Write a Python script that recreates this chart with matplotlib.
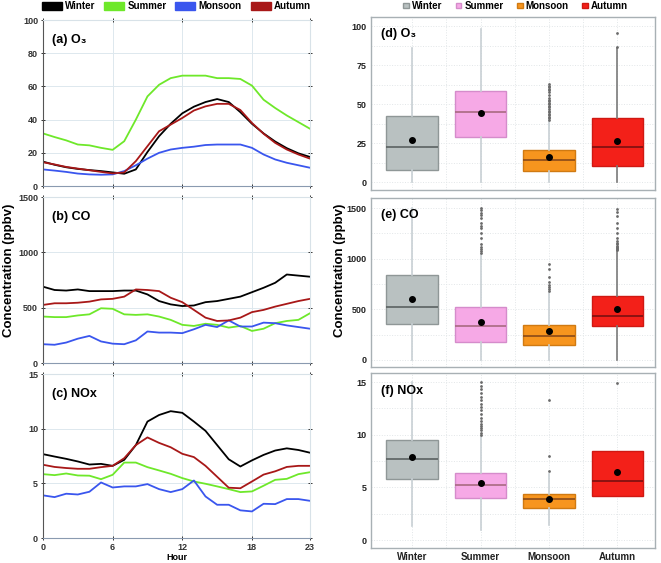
import numpy as np
import matplotlib.pyplot as plt
from matplotlib.patches import Patch

hours = list(range(24))
seasons = ['Winter', 'Summer', 'Monsoon', 'Autumn']
line_colors = ['#000000', '#6ee82a', '#3a56ee', '#a81818']

# diurnal O3 (ppbv)
o3_winter = [14.7, 12.8, 11.3, 10.3, 9.6, 9.0, 8.2, 7.4, 10.0, 20.5, 30.0, 37.5, 43.8, 47.8, 50.6, 52.4, 50.6, 44.5, 37.5, 31.7, 26.8, 22.8, 19.7, 17.5]
o3_summer = [31.7, 29.5, 27.5, 25.0, 24.5, 23.0, 21.8, 27.0, 40.0, 54.0, 61.0, 65.0, 66.5, 66.5, 66.5, 65.0, 65.0, 64.5, 60.5, 52.0, 47.0, 42.5, 38.5, 34.5]
o3_monsoon = [10.0, 9.3, 8.5, 7.5, 7.0, 6.8, 7.0, 9.0, 12.5, 16.5, 20.0, 22.0, 23.0, 23.7, 24.7, 25.0, 25.0, 25.0, 23.0, 19.0, 16.0, 14.0, 12.5, 11.0]
o3_autumn = [14.3, 13.0, 11.5, 10.5, 9.5, 8.5, 7.6, 8.2, 15.0, 24.0, 33.0, 37.0, 41.0, 45.5, 48.0, 49.5, 49.5, 45.8, 38.0, 31.5, 26.0, 22.0, 19.0, 16.5]

# diurnal CO (ppbv)
co_winter = [690, 660, 655, 665, 650, 650, 650, 655, 655, 620, 560, 530, 515, 520, 550, 560, 580, 600, 640, 680, 725, 800, 790, 780]
co_summer = [420, 415, 415, 430, 440, 495, 490, 440, 435, 440, 420, 390, 345, 335, 355, 345, 320, 335, 290, 310, 360, 380, 390, 450]
co_monsoon = [170, 165, 185, 220, 245, 195, 175, 170, 205, 285, 275, 275, 270, 305, 345, 325, 385, 330, 330, 365, 360, 340, 325, 310]
co_autumn = [525, 540, 540, 545, 555, 575, 580, 600, 665, 660, 650, 590, 550, 480, 410, 380, 385, 410, 460, 480, 510, 535, 560, 580]

# diurnal NOx (ppbv)
nox_winter = [7.67, 7.45, 7.24, 7.0, 6.72, 6.78, 6.6, 7.15, 8.5, 10.65, 11.25, 11.6, 11.45, 10.65, 9.8, 8.5, 7.2, 6.54, 7.1, 7.6, 8.0, 8.2, 8.05, 7.8]
nox_summer = [5.84, 5.75, 5.9, 5.72, 5.7, 5.38, 5.78, 6.9, 6.9, 6.48, 6.18, 5.87, 5.48, 5.17, 4.96, 4.72, 4.47, 4.2, 4.26, 4.78, 5.32, 5.41, 5.84, 6.02]
nox_monsoon = [3.9, 3.74, 4.05, 3.98, 4.23, 5.08, 4.62, 4.72, 4.72, 4.93, 4.47, 4.2, 4.47, 5.26, 3.8, 3.04, 3.04, 2.53, 2.43, 3.13, 3.1, 3.56, 3.56, 3.4]
nox_autumn = [6.7, 6.5, 6.4, 6.33, 6.33, 6.48, 6.6, 7.3, 8.5, 9.2, 8.7, 8.3, 7.7, 7.4, 6.6, 5.6, 4.6, 4.55, 5.17, 5.8, 6.1, 6.5, 6.6, 6.6]

# seasonal box stats: whisker low, q1, median, q3, whisker high, mean
o3_low = [0, 0, 0, 0]
o3_q1 = [8, 29, 7, 10.5]
o3_med = [22.5, 45, 14, 22.5]
o3_q3 = [42.5, 58.5, 20.5, 41]
o3_high = [86, 98, 40, 86]
o3_mean = [27, 44.5, 16, 26.5]
o3_fliers = [[], [], [40, 41, 42, 43, 44, 45, 46, 47, 48, 49, 50, 51, 52, 53, 54, 56, 58, 59, 60, 61, 62, 63], [87, 96]]

co_low = [0, 0, 0, 0]
co_q1 = [353, 178, 145, 333]
co_med = [527, 333, 241, 438]
co_q3 = [841, 521, 350, 633]
co_high = [1500, 1050, 660, 1080]
co_mean = [603, 379, 284, 504]
co_fliers = [[], [1060, 1080, 1100, 1120, 1150, 1200, 1250, 1300, 1320, 1350, 1400, 1430, 1450, 1480, 1500],
             [680, 700, 720, 740, 770, 820, 900, 950],
             [1090, 1100, 1110, 1120, 1130, 1150, 1160, 1180, 1200, 1250, 1300, 1350, 1420, 1460, 1490]]

nox_low = [1.3, 1.0, 1.4, 4.14]
nox_q1 = [5.81, 4.01, 3.09, 4.14]
nox_med = [7.67, 5.2, 3.88, 5.62]
nox_q3 = [9.54, 6.38, 4.36, 8.46]
nox_high = [15, 10, 6.3, 8.46]
nox_mean = [7.86, 5.46, 3.88, 6.44]
nox_fliers = [[], [10.0, 10.2, 10.4, 10.6, 10.8, 11.0, 11.3, 11.6, 12.0, 12.3, 12.6, 12.9, 13.3, 13.6, 14.0, 14.3, 14.6, 15.0],
              [6.6, 8.0, 13.3], [14.9]]

box_face = ['#b9c1c1', '#f6a9e6', '#f7951e', '#f32019']
box_edge = ['#8f9797', '#d58ccb', '#d07a12', '#d01812']
med_color = ['#5b6262', '#a86a80', '#8a4a18', '#7a1010']
whisk_color = ['#c8d0d4', '#c8d0d4', '#c8d0d4', '#7a7a7a']

plt.rcParams['font.family'] = ['Liberation Sans', 'DejaVu Sans']
fig = plt.figure(figsize=(6.61, 5.63), dpi=100)

left_pos = [[0.065, 0.6696, 0.404, 0.2948],
            [0.065, 0.3552, 0.404, 0.2948],
            [0.065, 0.0444, 0.404, 0.2913]]
line_data = [(o3_winter, o3_summer, o3_monsoon, o3_autumn),
             (co_winter, co_summer, co_monsoon, co_autumn),
             (nox_winter, nox_summer, nox_monsoon, nox_autumn)]
line_titles = ['(a) O₃', '(b) CO', '(c) NOx']
line_ylims = [(0, 100), (0, 1500), (0, 15)]
line_yticks = [[0, 20, 40, 60, 80, 100], [0, 500, 1000, 1500], [0, 5, 10, 15]]

for i in range(3):
    ax = fig.add_axes(left_pos[i])
    for s in range(4):
        ax.plot(hours, line_data[i][s], color=line_colors[s], lw=1.3)
    ax.set_xlim(0, 23)
    ax.set_ylim(*line_ylims[i])
    ax.set_xticks([0, 6, 12, 18, 23])
    ax.set_yticks(line_yticks[i])
    ax.grid(True, color='#dde8ee', lw=0.7)
    ax.tick_params(labelsize=6.5, length=3, width=0.7, colors='#333333',
                   right=True, top=True, direction='inout', pad=2)
    for lab in ax.get_yticklabels() + ax.get_xticklabels():
        lab.set_fontweight('bold')
    for sp in ['top', 'right']:
        ax.spines[sp].set_color('#d8e2e8')
    ax.spines['bottom'].set_color('#8a9ab0')
    ax.spines['left'].set_color('#555555')
    if i < 2:
        ax.set_xticklabels([])
    else:
        ax.set_xlabel('Hour', fontsize=6.5, fontweight='bold', labelpad=1)
    ax.text(0.035, 0.88, line_titles[i], transform=ax.transAxes, fontsize=9,
            fontweight='bold', va='center')

right_pos = [[0.5613, 0.6625, 0.4297, 0.3073],
             [0.5613, 0.3481, 0.4297, 0.3002],
             [0.5613, 0.0266, 0.4297, 0.3108]]
box_data = [(o3_low, o3_q1, o3_med, o3_q3, o3_high, o3_mean, o3_fliers),
            (co_low, co_q1, co_med, co_q3, co_high, co_mean, co_fliers),
            (nox_low, nox_q1, nox_med, nox_q3, nox_high, nox_mean, nox_fliers)]
box_titles = ['(d) O₃', '(e) CO', '(f) NOx']
box_ylims = [(-5, 106), (-70, 1600), (-0.75, 15.85)]
box_yticks = [[0, 25, 50, 75, 100], [0, 500, 1000, 1500], [0, 5, 10, 15]]
box_minor = [12.5, 250, 2.5]

for i in range(3):
    ax = fig.add_axes(right_pos[i])
    low, q1, med, q3, high, mean, fl = box_data[i]
    for s in range(4):
        st = [dict(whislo=low[s], q1=q1[s], med=med[s], q3=q3[s],
                   whishi=high[s], mean=mean[s], fliers=fl[s])]
        ax.bxp(st, positions=[s], widths=0.75, patch_artist=True,
               showmeans=True, showcaps=False,
               boxprops=dict(facecolor=box_face[s], edgecolor=box_edge[s], lw=1),
               medianprops=dict(color=med_color[s], lw=1.2),
               whiskerprops=dict(color=whisk_color[s], lw=1.2),
               meanprops=dict(marker='o', markerfacecolor='black',
                              markeredgecolor='black', markersize=4),
               flierprops=dict(marker='o', markersize=2, markerfacecolor='#6a6a6a',
                               markeredgewidth=0))
    ax.set_xlim(-0.6, 3.55)
    ax.set_ylim(*box_ylims[i])
    ax.set_yticks(box_yticks[i])
    ax.set_yticks(np.arange(0, box_ylims[i][1], box_minor[i]), minor=True)
    ax.set_xticks([0, 1, 2, 3])
    ax.set_xticks([0.5, 1.5, 2.5], minor=True)
    ax.grid(True, which='both', color='#e2e6e8', lw=0.7, ls=':')
    ax.set_axisbelow(True)
    ax.tick_params(which='both', length=0)
    ax.tick_params(labelsize=6.5, colors='#222222', pad=3)
    for lab in ax.get_yticklabels() + ax.get_xticklabels():
        lab.set_fontweight('bold')
    for sp in ax.spines.values():
        sp.set_color('#a8b0b4')
        sp.set_linewidth(1.0)
    if i < 2:
        ax.set_xticklabels([])
    else:
        ax.set_xticklabels(seasons, fontsize=7, fontweight='bold')
    ax.text(0.035, 0.9, box_titles[i], transform=ax.transAxes, fontsize=9,
            fontweight='bold', va='center')

fig.text(0.013, 0.52, 'Concentration (ppbv)', rotation=90, fontsize=9.5,
         fontweight='bold', ha='center', va='center')
fig.text(0.515, 0.52, 'Concentration (ppbv)', rotation=90, fontsize=9.5,
         fontweight='bold', ha='center', va='center')

leg_l = [Patch(facecolor=c, edgecolor=c) for c in line_colors]
fig.legend(leg_l, seasons, loc='center', bbox_to_anchor=(0.267, 0.989), ncol=4,
           frameon=False, handlelength=2.05, handleheight=0.9,
           columnspacing=0.9, handletextpad=0.35, borderpad=0,
           prop=dict(weight='bold', size=7))

leg_r = [Patch(facecolor=box_face[s], edgecolor=box_edge[s]) for s in range(4)]
fig.legend(leg_r, seasons, loc='center', bbox_to_anchor=(0.78, 0.989), ncol=4,
           frameon=False, handlelength=0.6, handleheight=0.45,
           columnspacing=1.4, handletextpad=0.3, borderpad=0,
           prop=dict(weight='bold', size=7))

fig.savefig('out.png', dpi=100)
